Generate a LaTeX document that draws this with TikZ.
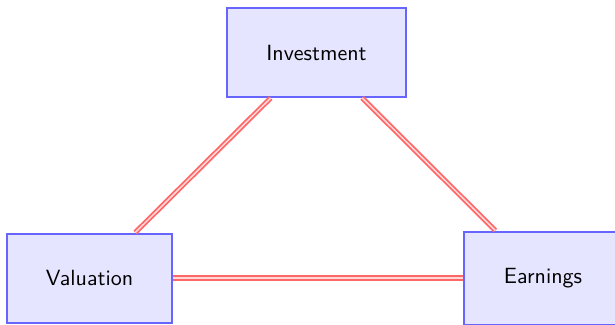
\documentclass[tikz,border=0pt]{standalone}
\usepackage{tikz}
\begin{document}
\begin{tikzpicture}[x=0.4545pt,y=-0.4545pt,
  box/.style={draw=blue!60,fill=blue!10,line width=0.9pt,font=\sffamily,inner sep=0pt},
  conn/.style={draw=red!60,line width=0.8pt,double=red!15,double distance=0.7pt}]
\useasboundingbox (0,0) rectangle (615,324);
\begin{scope}
\clip (0,0) rectangle (615,324);
\node[box,minimum width={179*0.4545pt},minimum height={89*0.4545pt}] (inv) at (316.5,52.5) {Investment};
\node[box,minimum width={165*0.4545pt},minimum height={89*0.4545pt}] (val) at (89.5,278) {Valuation};
\node[box,minimum width={158*0.4545pt},minimum height={93*0.4545pt}] (ear) at (543,278) {Earnings};
\draw[conn] (inv) -- (val);
\draw[conn] (inv) -- (ear);
\draw[conn] (val) -- (ear);
\end{scope}
\end{tikzpicture}
\end{document}
